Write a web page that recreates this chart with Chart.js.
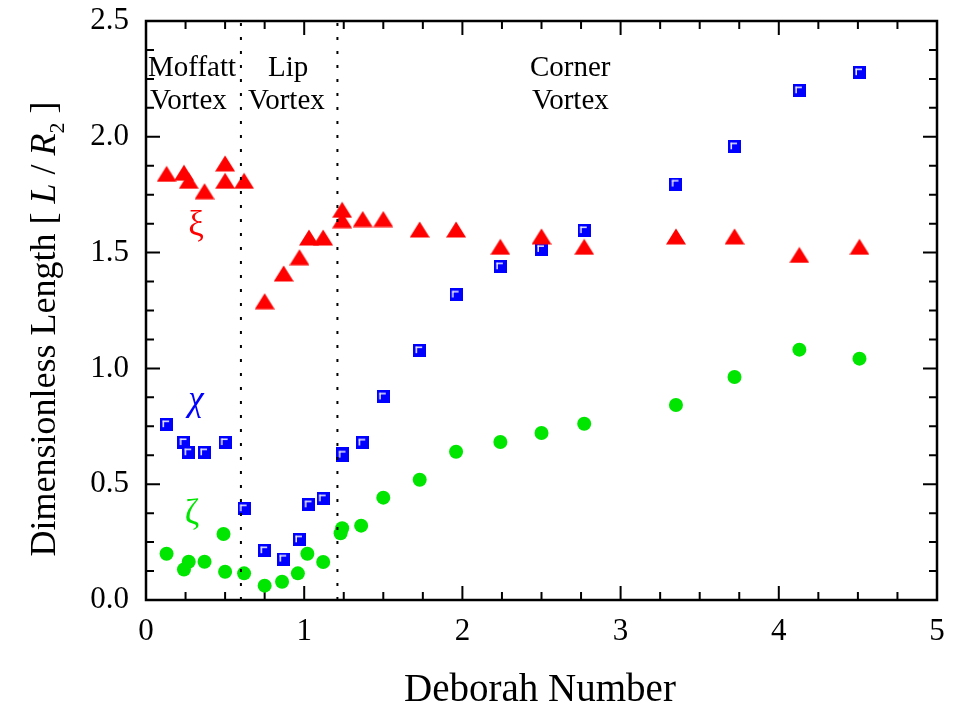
<!DOCTYPE html>
<html>
<head>
<meta charset="utf-8">
<script src="https://cdn.jsdelivr.net/npm/chart.js@4.4.0/dist/chart.umd.min.js"></script>
<style>
  html, body { margin: 0; padding: 0; background: #fff; }
  #chart { display: block; }
</style>
</head>
<body>
<canvas id="chart" width="954" height="705"></canvas>
<script>
// xi: red triangles
const xiDe  = [0.13, 0.24, 0.27, 0.37, 0.50, 0.50, 0.62, 0.75, 0.87, 0.97, 1.03, 1.12, 1.24, 1.24, 1.37, 1.50, 1.73, 1.96, 2.24, 2.50, 2.77, 3.35, 3.72, 4.13, 4.51];
const xiLen = [1.84, 1.845, 1.81, 1.765, 1.885, 1.81, 1.81, 1.29, 1.41, 1.48, 1.565, 1.565, 1.685, 1.64, 1.645, 1.645, 1.60, 1.60, 1.525, 1.57, 1.525, 1.57, 1.57, 1.49, 1.525];

// chi: blue squares
const chiDe  = [0.13, 0.24, 0.27, 0.37, 0.50, 0.62, 0.75, 0.87, 0.97, 1.03, 1.12, 1.24, 1.245, 1.37, 1.50, 1.73, 1.96, 2.24, 2.50, 2.77, 3.35, 3.72, 4.13, 4.51];
const chiLen = [0.757, 0.68, 0.636, 0.636, 0.68, 0.394, 0.213, 0.177, 0.26, 0.411, 0.437, 0.632, 0.626, 0.678, 0.877, 1.077, 1.317, 1.439, 1.514, 1.595, 1.796, 1.957, 2.199, 2.277];

// zeta: green circles
const zetaDe  = [0.13, 0.24, 0.27, 0.37, 0.49, 0.50, 0.62, 0.75, 0.86, 0.96, 1.02, 1.12, 1.23, 1.24, 1.36, 1.50, 1.73, 1.96, 2.24, 2.50, 2.77, 3.35, 3.72, 4.13, 4.51];
const zetaLen = [0.20, 0.132, 0.165, 0.165, 0.285, 0.122, 0.115, 0.062, 0.079, 0.115, 0.20, 0.164, 0.288, 0.31, 0.321, 0.442, 0.519, 0.64, 0.682, 0.721, 0.761, 0.842, 0.963, 1.081, 1.042];

// regime boundaries (dotted verticals) and region names
const regionBounds = [0.6, 1.21];
const regionNames = [['Moffatt', 'Vortex'], ['Lip', 'Vortex'], ['Corner', 'Vortex']];

const xRange = [0, 5];
const yRange = [0, 2.5];
const xMajor = 1, xMinor = 0.25;
const yMajor = 0.5, yMinor = 0.125;

const SERIF = '"Liberation Serif", "Times New Roman", serif';
const RED = '#ff0000', BLUE = '#0000ff', GREEN = '#00e600';

function pts(xs, ys) {
  return xs.map((x, i) => ({ x, y: ys[i] }));
}

// marker images
function squareMarker() {
  const c = document.createElement('canvas');
  c.width = 13; c.height = 13;
  const g = c.getContext('2d');
  g.fillStyle = BLUE;
  g.fillRect(0, 0, 13, 13);
  g.fillStyle = '#fff';
  g.fillRect(2.5, 2.5, 1.4, 6.5);
  g.fillRect(2.5, 2.5, 6.5, 1.4);
  return c;
}

function triangleMarker() {
  const c = document.createElement('canvas');
  c.width = 20; c.height = 17;
  const g = c.getContext('2d');
  g.fillStyle = RED;
  g.beginPath();
  g.moveTo(0, 16.5);
  g.lineTo(10, 0.5);
  g.lineTo(20, 16.5);
  g.closePath();
  g.fill();
  return c;
}

const boundaryLines = regionBounds.map(b => ({
  data: [{ x: b, y: yRange[0] }, { x: b, y: yRange[1] }],
  showLine: true,
  borderColor: '#000',
  borderWidth: 2,
  borderDash: [3, 11],
  pointRadius: 0
}));

// box, inward ticks on all four sides
const framePlugin = {
  id: 'frame',
  beforeDatasetsDraw(chart) {
    const { ctx, chartArea: a, scales: { x, y } } = chart;
    ctx.save();
    ctx.strokeStyle = '#000';
    ctx.lineWidth = 2.5;
    ctx.strokeRect(a.left, a.top, a.right - a.left, a.bottom - a.top);
    ctx.lineWidth = 2;
    ctx.beginPath();
    for (let v = xRange[0]; v <= xRange[1] + 1e-9; v += xMinor) {
      const px = x.getPixelForValue(v);
      const len = Math.abs(v / xMajor - Math.round(v / xMajor)) < 1e-6 ? 14 : 8;
      ctx.moveTo(px, a.bottom); ctx.lineTo(px, a.bottom - len);
      ctx.moveTo(px, a.top); ctx.lineTo(px, a.top + len);
    }
    for (let v = yRange[0]; v <= yRange[1] + 1e-9; v += yMinor) {
      const py = y.getPixelForValue(v);
      const len = Math.abs(v / yMajor - Math.round(v / yMajor)) < 1e-6 ? 14 : 8;
      ctx.moveTo(a.left, py); ctx.lineTo(a.left + len, py);
      ctx.moveTo(a.right, py); ctx.lineTo(a.right - len, py);
    }
    ctx.stroke();
    ctx.restore();
  },
  afterDraw(chart) {
    const { ctx } = chart;
    ctx.save();
    ctx.fillStyle = '#000';
    ctx.textBaseline = 'alphabetic';

    // region names
    ctx.font = '29px ' + SERIF;
    ctx.textAlign = 'left';
    ctx.fillText(regionNames[0][0], 148, 76);
    ctx.fillText(regionNames[0][1], 150, 109);
    ctx.fillText(regionNames[1][0], 268, 76);
    ctx.fillText(regionNames[1][1], 248, 109);
    ctx.fillText(regionNames[2][0], 530, 76);
    ctx.fillText(regionNames[2][1], 532, 109);

    // series symbols
    ctx.textAlign = 'center';
    ctx.font = '35px ' + SERIF;
    ctx.fillStyle = RED;   ctx.fillText('ξ', 196, 235);
    ctx.font = 'italic 35px ' + SERIF;
    ctx.fillStyle = BLUE;  ctx.fillText('χ', 196, 410);
    ctx.font = '35px ' + SERIF;
    ctx.fillStyle = GREEN; ctx.fillText('ζ', 192, 524);

    // x title
    ctx.fillStyle = '#000';
    ctx.font = '39px ' + SERIF;
    ctx.fillText('Deborah Number', 540, 701);

    // y title with italic L, R and subscript 2
    const segs = [
      { t: 'Dimensionless Length [ ', f: '36px ' + SERIF, dy: 0 },
      { t: 'L', f: 'italic 36px ' + SERIF, dy: 0 },
      { t: ' / ', f: '36px ' + SERIF, dy: 0 },
      { t: 'R', f: 'italic 36px ' + SERIF, dy: 0 },
      { t: '2', f: '22px ' + SERIF, dy: 9 },
      { t: ' ]', f: '36px ' + SERIF, dy: 0 }
    ];
    let total = 0;
    segs.forEach(s => { ctx.font = s.f; s.w = ctx.measureText(s.t).width; total += s.w; });
    ctx.translate(55, 329);
    ctx.rotate(-Math.PI / 2);
    ctx.textAlign = 'left';
    let u = -total / 2;
    segs.forEach(s => { ctx.font = s.f; ctx.fillText(s.t, u, s.dy); u += s.w; });
    ctx.restore();
  }
};

new Chart(document.getElementById('chart'), {
  type: 'scatter',
  data: {
    datasets: [
      ...boundaryLines,
      { label: 'xi', data: pts(xiDe, xiLen), pointStyle: triangleMarker(), pointRadius: 9 },
      { label: 'chi', data: pts(chiDe, chiLen), pointStyle: squareMarker(), pointRadius: 7 },
      { label: 'zeta', data: pts(zetaDe, zetaLen), pointStyle: 'circle', pointRadius: 7,
        backgroundColor: GREEN, borderWidth: 0 }
    ]
  },
  options: {
    responsive: false,
    animation: false,
    layout: { padding: { top: 21, right: 17, left: 0, bottom: 0 } },
    plugins: { legend: { display: false }, tooltip: { enabled: false } },
    scales: {
      x: {
        type: 'linear', min: xRange[0], max: xRange[1],
        grid: { display: false, drawTicks: false },
        border: { display: false },
        ticks: { stepSize: xMajor, color: '#000', padding: 13, font: { family: SERIF, size: 31 } },
        afterFit(s) { s.height = 105; s.paddingLeft = 0; s.paddingRight = 0; }
      },
      y: {
        type: 'linear', min: yRange[0], max: yRange[1],
        grid: { display: false, drawTicks: false },
        border: { display: false },
        ticks: { stepSize: yMajor, color: '#000', padding: 17, font: { family: SERIF, size: 31 },
          callback: v => v.toFixed(1) },
        afterFit(s) { s.width = 146; s.paddingTop = 0; s.paddingBottom = 0; }
      }
    }
  },
  plugins: [framePlugin]
});
</script>
</body>
</html>
